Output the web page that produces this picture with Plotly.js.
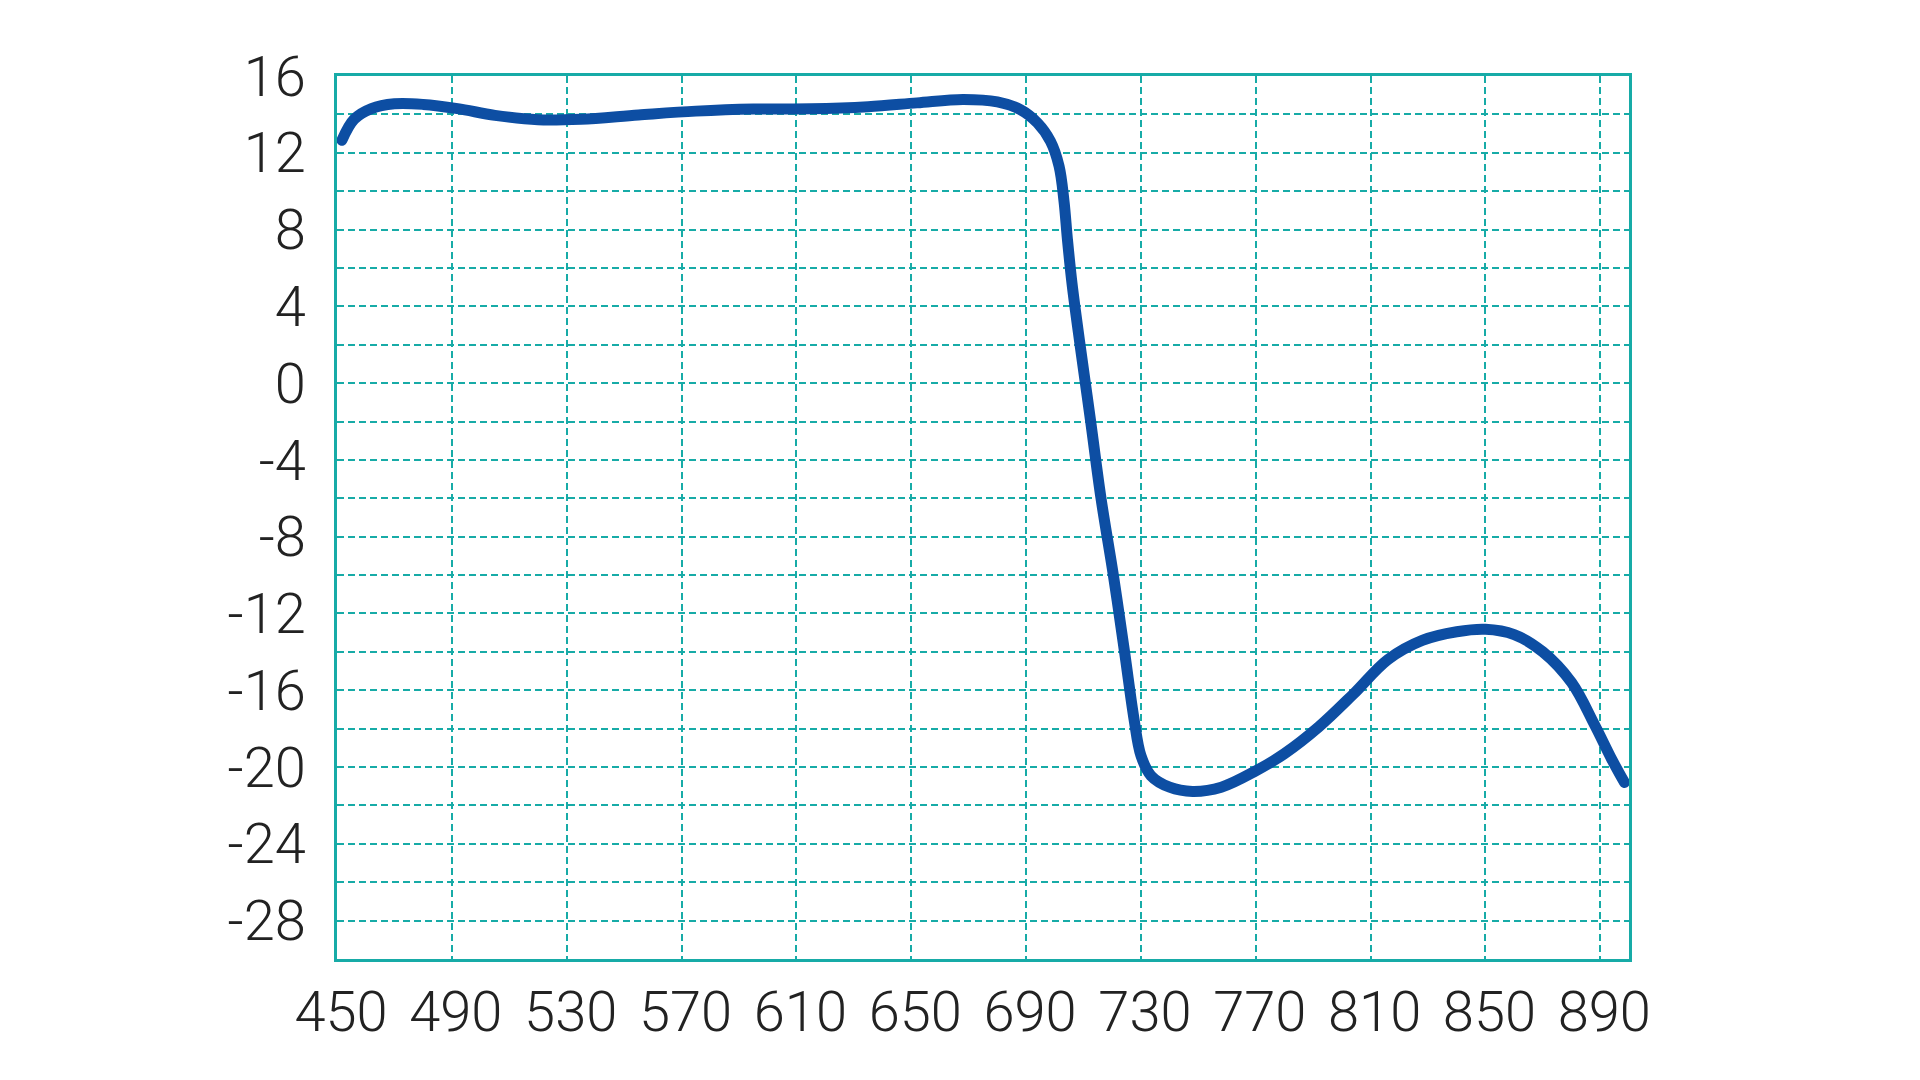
<!DOCTYPE html>
<html>
<head>
<meta charset="utf-8">
<script src="https://cdn.plot.ly/plotly-3.0.1.min.js"></script>
<style>
  html, body { margin: 0; padding: 0; background: #ffffff; }
  #chart { width: 1920px; height: 1080px; }
  .js-line { stroke-linecap: round; stroke-linejoin: round; }
</style>
</head>
<body>
<div id="chart"></div>
<script>
// Wavelength (nm)
const wavelength = [451.7, 456, 462, 470, 480, 492, 505, 520, 535, 555, 575, 595, 615, 635, 652, 668, 680, 688, 694, 698.5, 701.5, 703.2, 704.4, 706, 708.8, 712.5, 716.1, 720.4, 724.3, 727.6, 730, 733.5, 740, 748, 758, 770, 780, 792, 804, 816, 828, 840, 850, 860, 870, 880, 888, 894, 898.4];
// Measured value
const values = [12.65, 13.75, 14.3, 14.55, 14.52, 14.3, 13.95, 13.72, 13.75, 13.97, 14.17, 14.28, 14.29, 14.4, 14.6, 14.78, 14.65, 14.25, 13.55, 12.6, 11.3, 9.5, 7.5, 5.2, 2.0, -2.0, -6.0, -10.0, -14.0, -17.5, -19.4, -20.45, -21.05, -21.27, -21.05, -20.2, -19.3, -17.9, -16.2, -14.4, -13.4, -12.95, -12.82, -13.1, -14.0, -15.6, -17.8, -19.6, -20.8];

const xTickVals = [450, 490, 530, 570, 610, 650, 690, 730, 770, 810, 850, 890];
const xTickText = ["450", "490", "530", "570", "610", "650", "690", "730", "770", "810", "850", "890"];
const yTickVals = [16, 12, 8, 4, 0, -4, -8, -12, -16, -20, -24, -28];
const yTickText = ["16", "12", "8", "4", "0", "-4", "-8", "-12", "-16", "-20", "-24", "-28"];

const teal = "#17aba7";
const tickFont = { family: "Roboto, 'Noto Sans', sans-serif", size: 56, color: "#222222", weight: 300 };

const trace = {
  x: wavelength,
  y: values,
  type: "scatter",
  mode: "lines",
  line: { color: "#0d4ea3", width: 11, shape: "spline", smoothing: 1 },
  hoverinfo: "skip"
};

const layout = {
  width: 1920,
  height: 1080,
  margin: { l: 337, r: 291, t: 76, b: 121 },
  paper_bgcolor: "#ffffff",
  plot_bgcolor: "#ffffff",
  showlegend: false,
  xaxis: {
    range: [450, 900],
    tickmode: "array",
    tickvals: xTickVals,
    ticktext: xTickText,
    ticks: "",
    ticklabelstandoff: 2,
    ticklabelshift: 4,
    tickfont: tickFont,
    showgrid: true,
    gridcolor: teal,
    gridwidth: 2,
    griddash: "7px,4px",
    zeroline: false,
    showline: true,
    mirror: true,
    linecolor: teal,
    linewidth: 3
  },
  yaxis: {
    range: [-30, 16],
    tickmode: "array",
    tickvals: yTickVals,
    ticktext: yTickText,
    ticks: "",
    ticklabelstandoff: 17,
    tickfont: tickFont,
    showgrid: true,
    gridcolor: teal,
    gridwidth: 2,
    griddash: "7px,4px",
    minor: { tick0: 0, dtick: 2, showgrid: true, gridcolor: teal, gridwidth: 2, griddash: "7px,4px" },
    zeroline: false,
    showline: true,
    mirror: true,
    linecolor: teal,
    linewidth: 3
  }
};

Plotly.newPlot("chart", [trace], layout, { staticPlot: true, displayModeBar: false });
</script>
</body>
</html>
